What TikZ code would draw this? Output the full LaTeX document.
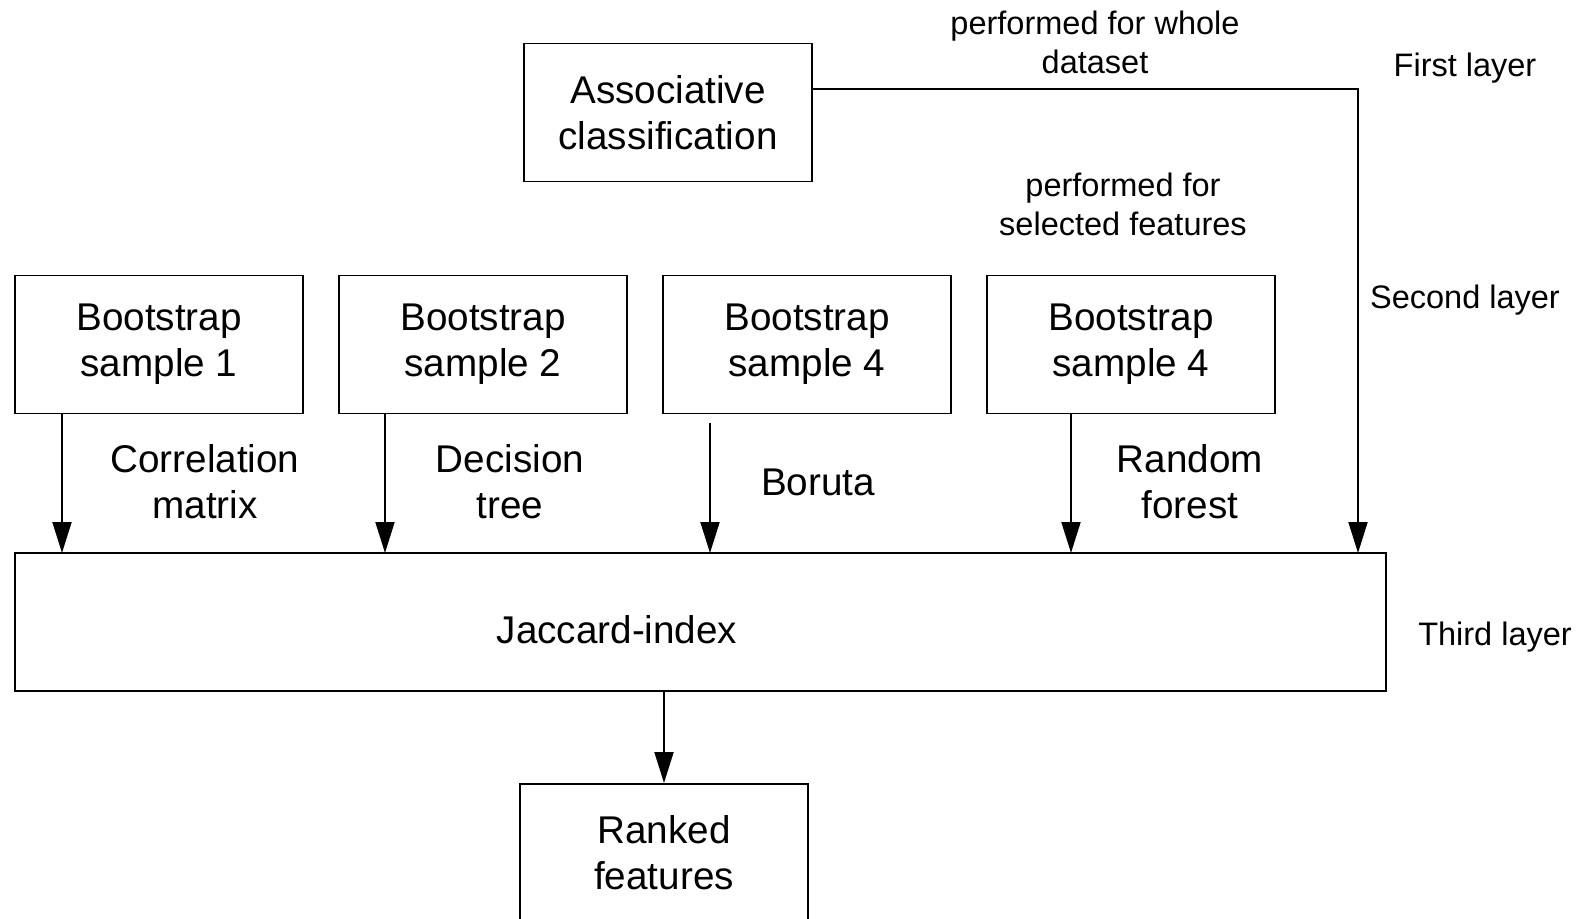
\documentclass[tikz,border=0pt]{standalone}
\usepackage{fontspec}
\setmainfont{Liberation Sans}
\usetikzlibrary{arrows.meta}

\begin{document}
\begin{tikzpicture}[x=0.02cm,y=-0.02cm,
        box/.style={draw,line width=1.1pt,minimum width=5.76cm,minimum height=2.76cm,inner sep=0pt,align=center,font=\fontsize{22}{26}\selectfont},
        lbl/.style={align=center,font=\fontsize{22}{26}\selectfont},
        note/.style={align=center,font=\fontsize{18.5}{22.2}\selectfont},
        arr/.style={line width=1.1pt,-{Triangle[length=0.62cm,width=0.38cm]}}]
        \useasboundingbox (0,0) rectangle (1578,919);

        % First layer
        \node[box] (ac) at (668,112.5) {Associative\\classification};
        \node[note] (whole) at (1095,42) {performed for whole\\dataset};
        \node[note] (first) at (1465,68) {First layer};

        % Second layer
        \node[box] (b1) at (159,344.5) {Bootstrap\\sample 1};
        \node[box] (b2) at (483,344.5) {Bootstrap\\sample 2};
        \node[box] (b3) at (807,344.5) {Bootstrap\\sample 4};
        \node[box] (b4) at (1131,344.5) {Bootstrap\\sample 4};
        \node[note] (sel) at (1123,204) {performed for\\selected features};
        \node[note] (second) at (1465,300) {Second layer};

        % Third layer
        \node[box,minimum width=27.42cm] (jac) at (700.5,622) {};
        \node[lbl] (jtxt) at (617,630) {Jaccard-index};
        \node[note] (third) at (1495,637) {Third layer};
        \node[box] (rk) at (664,853) {Ranked\\features};

        % method labels
        \node[lbl] (corr) at (205,482) {Correlation\\matrix};
        \node[lbl] (dt) at (510,482) {Decision\\tree};
        \node[lbl] (bor) at (818,482) {Boruta};
        \node[lbl] (rf) at (1190,482) {Random\\forest};

        % arrows into Jaccard-index
        \coordinate (in1) at (62,553);
        \coordinate (in2) at (385,553);
        \coordinate (in3) at (710,553);
        \coordinate (in4) at (1071,553);
        \coordinate (in5) at (1358,553);
        \coordinate (bo) at (710,423);
        \draw[arr] (b1.south -| in1) -- (in1);
        \draw[arr] (b2.south -| in2) -- (in2);
        \draw[arr] (bo) -- (in3);
        \draw[arr] (b4.south -| in4) -- (in4);
        \draw[arr] ([yshift=0.47cm]ac.east) -| (in5);
        \draw[arr] (jac.south -| rk.north) -- (rk.north);
\end{tikzpicture}
\end{document}
